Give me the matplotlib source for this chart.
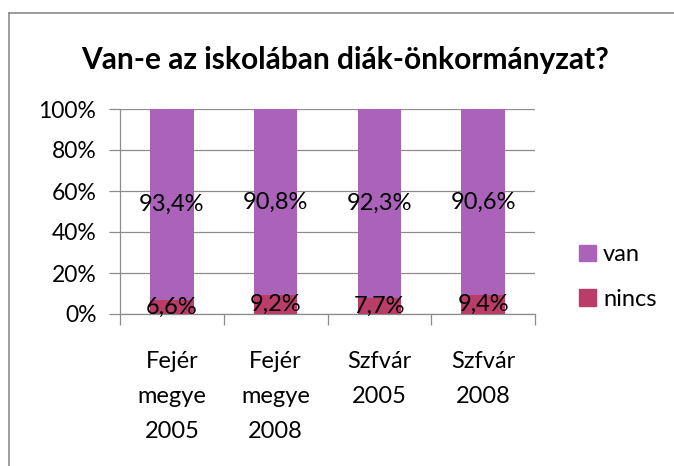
import matplotlib
matplotlib.use("Agg")
import matplotlib.pyplot as plt
from matplotlib.lines import Line2D
from matplotlib.patches import Patch

categories = ["Fejér\nmegye\n2005", "Fejér\nmegye\n2008", "Szfvár\n2005", "Szfvár\n2008"]
nincs = [6.6, 9.2, 7.7, 9.4]
van = [93.4, 90.8, 92.3, 90.6]
nincs_labels = ["6,6%", "9,2%", "7,7%", "9,4%"]
van_labels = ["93,4%", "90,8%", "92,3%", "90,6%"]
yticks = [0, 20, 40, 60, 80, 100]
ytick_labels = ["0%", "20%", "40%", "60%", "80%", "100%"]

c_van = "#AB63BA"
c_nincs = "#B93C69"
grid_c = "#8C8C8C"

plt.rcParams["font.family"] = ["Lato", "DejaVu Sans"]

fig = plt.figure(figsize=(6.74, 4.66), dpi=100)
ax = fig.add_axes([120/674, 1-314/466, (535-120)/674, (314-109)/466])

x = list(range(len(categories)))
b1 = ax.bar(x, nincs, width=0.42, color=c_nincs, zorder=3)
b2 = ax.bar(x, van, width=0.42, bottom=nincs, color=c_van, zorder=3)
ax.bar_label(b1, labels=nincs_labels, label_type="center", fontsize=17, color="black")
ax.bar_label(b2, labels=van_labels, label_type="center", fontsize=17, color="black")

ax.set_xlim(-0.5, len(categories) - 0.5)
ax.set_ylim(0, 100)
ax.set_yticks(yticks)
ax.set_yticklabels(ytick_labels, fontsize=16.5)
ax.yaxis.grid(True, color=grid_c, linewidth=0.9, zorder=0)
ax.set_axisbelow(True)

ax.set_xticks(x)
ax.set_xticklabels(categories, fontsize=17, linespacing=1.8)
ax.tick_params(axis="x", length=0, pad=27)
ax.set_xticks([i - 0.5 for i in range(len(categories) + 1)], minor=True)
ax.tick_params(axis="x", which="minor", length=8, color=grid_c, width=0.9)
ax.tick_params(axis="y", length=8, color=grid_c, width=0.9, pad=9)

for s in ["top", "right"]:
    ax.spines[s].set_visible(False)
ax.spines["left"].set_color(grid_c)
ax.spines["bottom"].set_color(grid_c)
ax.spines["left"].set_linewidth(0.9)
ax.spines["bottom"].set_linewidth(0.9)

fig.text(345/674, 1-60/466, "Van-e az iskolában diák-önkormányzat?",
         ha="center", va="center", fontsize=21.5, fontweight="bold")

# legend
handles = [Patch(color=c_van, label="van"), Patch(color=c_nincs, label="nincs")]
fig.legend(handles=handles, loc="center left", bbox_to_anchor=(560/674, 1-277/466),
           frameon=False, fontsize=17, handlelength=0.72, handleheight=0.72,
           handletextpad=0.3, labelspacing=1.0, borderpad=0.3)

# chart border
fig.add_artist(Line2D([9/674, 9/674], [0, 1-13/466], color="#8C8C8C", linewidth=1.2))
fig.add_artist(Line2D([9/674, 1], [1-13/466, 1-13/466], color="#8C8C8C", linewidth=1.2))

fig.savefig("out.png", dpi=100)
